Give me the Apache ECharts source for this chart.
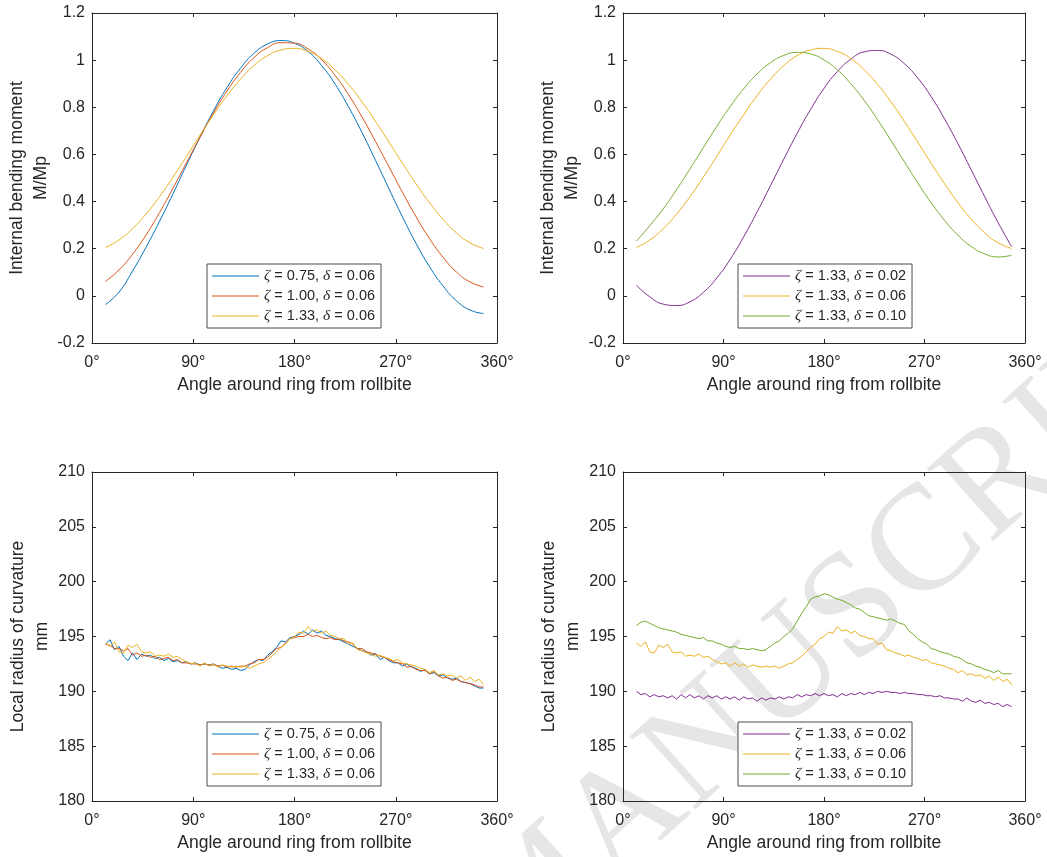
<!DOCTYPE html>
<html><head><meta charset="utf-8">
<script src="https://cdn.jsdelivr.net/npm/echarts@6/dist/echarts.min.js"></script>
<style>html,body{margin:0;padding:0;background:#fff}#c{width:1047px;height:857px}</style>
</head><body><div id="c"></div>
<script>
// ---------- data ----------
const angTop = [12,24,36,48,60,72,84,96,108,120,132,144,156,168,180,192,204,216,228,240,252,264,276,288,300,312,324,336,348];
const momZ075 = [-0.037,0.016,0.105,0.206,0.316,0.433,0.555,0.673,0.785,0.884,0.966,1.029,1.068,1.083,1.072,1.037,0.978,0.899,0.802,0.693,0.575,0.454,0.335,0.223,0.124,0.042,-0.021,-0.060,-0.075];
const momZ100 = [0.061,0.110,0.176,0.258,0.353,0.457,0.565,0.673,0.776,0.869,0.948,1.011,1.053,1.074,1.072,1.048,1.002,0.936,0.854,0.759,0.655,0.547,0.439,0.336,0.243,0.164,0.101,0.059,0.038];
const momZ133 = [0.205,0.237,0.285,0.347,0.421,0.504,0.592,0.682,0.768,0.849,0.919,0.977,1.019,1.043,1.050,1.037,1.007,0.959,0.897,0.823,0.740,0.652,0.562,0.476,0.395,0.325,0.267,0.225,0.201];
const momD002 = [0.045,-0.004,-0.035,-0.041,-0.025,0.015,0.076,0.155,0.250,0.355,0.467,0.580,0.690,0.791,0.880,0.952,1.004,1.035,1.041,1.025,0.985,0.924,0.845,0.750,0.645,0.533,0.420,0.310,0.209];
const momD010 = [0.232,0.298,0.369,0.451,0.539,0.629,0.719,0.803,0.878,0.941,0.989,1.020,1.033,1.026,1.001,0.959,0.900,0.829,0.747,0.659,0.569,0.479,0.395,0.320,0.257,0.209,0.178,0.165,0.172];

const angBot = [12,16,20,24,28,32,36,40,44,48,52,56,60,64,68,72,76,80,84,88,92,96,100,104,108,112,116,120,124,128,132,136,140,144,148,152,156,160,164,168,172,176,180,184,188,192,196,200,204,208,212,216,220,224,228,232,236,240,244,248,252,256,260,264,268,272,276,280,284,288,292,296,300,304,308,312,316,320,324,328,332,336,340,344,348];
const radZ075 = [194.3,194.7,193.8,194.1,193.2,192.8,193.5,192.9,193.4,193.2,
193.3,193.0,193.1,192.8,193.0,192.7,192.8,192.6,192.7,192.5,
192.6,192.4,192.5,192.4,192.5,192.3,192.1,192.2,192.0,192.1,
191.9,192.0,192.4,192.7,192.9,192.8,193.3,193.6,194.0,194.6,
194.5,194.9,195.0,195.2,195.5,195.2,195.6,195.3,195.5,195.1,
195.0,194.8,194.7,194.5,194.3,194.1,193.9,193.7,193.6,193.3,
193.4,192.9,193.1,192.8,192.6,192.6,192.3,192.5,192.2,192.1,
191.8,192.0,191.6,191.7,191.4,191.5,191.2,191.1,191.2,190.9,
190.8,190.7,190.5,190.3,190.3];
const radZ100 = [194.3,194.2,193.9,193.9,193.7,193.9,193.3,193.5,193.2,193.3,
193.1,193.2,192.9,193.0,193.1,192.8,192.9,192.6,192.6,192.5,
192.5,192.4,192.5,192.4,192.4,192.3,192.4,192.2,192.3,192.2,
192.3,192.3,192.5,192.6,192.9,192.9,193.1,193.5,193.9,194.0,
194.4,194.8,194.9,195.0,195.0,195.2,195.0,195.1,194.9,194.8,
194.9,194.7,194.8,194.6,194.5,194.3,193.9,193.9,193.6,193.5,
193.4,193.2,193.1,192.9,192.7,192.6,192.5,192.2,192.3,192.0,
191.9,191.9,191.6,191.8,191.4,191.2,191.3,191.0,191.1,190.9,
190.8,190.7,190.6,190.4,190.4];
const radZ133 = [194.4,194.1,194.5,193.6,193.5,194.2,194.0,194.3,193.6,193.5,
193.6,193.2,193.3,193.2,193.4,193.1,193.2,192.9,192.7,192.5,
192.6,192.3,192.6,192.3,192.5,192.2,192.4,192.3,192.2,192.3,
192.2,192.3,192.1,192.3,192.5,192.6,192.9,193.2,193.6,194.0,
194.3,194.8,195.0,195.4,195.3,195.9,195.5,195.6,195.3,195.5,
195.1,195.0,194.8,194.8,194.3,194.4,193.8,193.7,193.5,193.4,
193.2,193.3,193.1,193.0,192.8,192.9,192.6,192.5,192.4,192.3,
192.1,192.0,191.7,191.9,191.5,191.6,191.4,191.5,191.2,191.4,
191.0,191.3,190.9,191.1,190.6];
const radD002 = [190.0,189.7,189.8,189.5,189.7,189.5,189.6,189.4,189.6,189.3,
189.7,189.4,189.7,189.4,189.6,189.3,189.6,189.4,189.6,189.3,
189.5,189.3,189.5,189.2,189.5,189.3,189.4,189.1,189.4,189.2,
189.4,189.3,189.5,189.3,189.5,189.4,189.7,189.5,189.7,189.6,
189.8,189.6,189.8,189.6,189.7,189.5,189.8,189.6,189.8,189.7,
189.9,189.7,189.9,189.8,190.0,189.9,190.0,189.9,189.9,189.8,
189.9,189.8,189.8,189.7,189.7,189.6,189.6,189.5,189.6,189.4,
189.4,189.3,189.3,189.1,189.4,189.1,189.0,189.2,188.9,189.0,
188.8,188.9,188.6,188.8,188.6];
const radD010 = [196.0,196.3,196.4,196.2,196.0,195.8,195.7,195.6,195.5,195.4,
195.2,195.1,195.0,194.9,194.8,194.9,194.6,194.6,194.4,194.3,
194.1,194.0,194.1,193.9,193.9,193.8,193.9,193.8,193.7,193.8,
194.1,194.4,194.6,195.0,195.3,195.7,196.4,197.1,197.7,198.4,
198.6,198.7,198.9,198.8,198.6,198.4,198.3,198.1,197.9,197.6,
197.5,197.2,196.9,196.8,196.7,196.6,196.5,196.6,196.4,196.2,
196.1,195.5,195.2,194.8,194.5,194.3,193.9,193.8,193.6,193.5,
193.4,193.2,193.1,192.9,192.6,192.5,192.3,192.2,192.0,191.9,
191.7,191.9,191.6,191.6,191.6];

const xTicks = [0, 90, 180, 270, 360];
const yTopTicks = [-0.2, 1.2, 0.2];
const yBotTicks = [180, 210, 5];
const nameZ075 = 'ζ = 0.75, δ = 0.06';
const nameZ100 = 'ζ = 1.00, δ = 0.06';
const nameZ133 = 'ζ = 1.33, δ = 0.06';
const nameD002 = 'ζ = 1.33, δ = 0.02';
const nameD010 = 'ζ = 1.33, δ = 0.10';
const xTitle = 'Angle around ring from rollbite';
const yTitleTop = 'Internal bending moment\nM/Mp';
const yTitleBot = 'Local radius of curvature\nmm';

// ---------- styling ----------
const FONT = '"Liberation Sans", Arial, Helvetica, sans-serif';
const SERIF = '"Liberation Serif", "DejaVu Serif", serif';
const TXT = '#262626';
const C = {blue:'#0072BD', red:'#D95319', yellow:'#EDB120', purple:'#7E2F8E', green:'#77AC30'};

const grids = [
  {left:92, top:13, width:405, height:330},
  {left:623, top:13, width:402, height:330},
  {left:92, top:472, width:405, height:329},
  {left:623, top:472, width:402, height:329}
];

const xAxis = [], yAxis = [];
grids.forEach((g, gi) => {
  const base = {
    type:'value', gridIndex:gi, min:xTicks[0], max:xTicks[xTicks.length-1], interval:xTicks[1]-xTicks[0],
    axisLine:{show:true, onZero:false, lineStyle:{color:TXT, width:1}},
    axisTick:{show:true, inside:true, length:4, lineStyle:{color:TXT, width:1}},
    splitLine:{show:false}
  };
  xAxis.push(Object.assign({}, base, {
    position:'bottom',
    axisLabel:{color:TXT, fontSize:16, fontFamily:FONT, margin:12, formatter:v => v + '°'},
    name:xTitle, nameLocation:'middle', nameGap:33,
    nameTextStyle:{color:TXT, fontSize:17.5, fontFamily:FONT}
  }));
  xAxis.push(Object.assign({}, base, {position:'top', axisLabel:{show:false}}));
  const t = gi < 2 ? yTopTicks : yBotTicks;
  const ybase = {
    type:'value', gridIndex:gi, min:t[0], max:t[1], interval:t[2],
    axisLine:{show:true, onZero:false, lineStyle:{color:TXT, width:1}},
    axisTick:{show:true, inside:true, length:4, lineStyle:{color:TXT, width:1}},
    splitLine:{show:false}
  };
  yAxis.push(Object.assign({}, ybase, {
    position:'left',
    axisLabel:{color:TXT, fontSize:16, fontFamily:FONT, margin:7,
      formatter:v => String(Math.round(v*10)/10)},
    name: gi < 2 ? yTitleTop : yTitleBot, nameLocation:'middle', nameRotate:90, nameGap:35,
    nameTextStyle:{color:TXT, fontSize:17.5, fontFamily:FONT, lineHeight:24}
  }));
  yAxis.push(Object.assign({}, ybase, {position:'right', axisLabel:{show:false}}));
});

function zip(xs, ys){ return xs.map((x,i)=>[x, ys[i]]); }
function mk(gi, name, xs, ys, color, smooth){
  return {type:'line', name, xAxisIndex:2*gi, yAxisIndex:2*gi, data:zip(xs, ys),
    symbol:'none', showSymbol:false, smooth:smooth, lineStyle:{width:1, color}, itemStyle:{color},
    emphasis:{disabled:true}, animation:false};
}
const series = [
  mk(0, nameZ075, angTop, momZ075, C.blue, true),
  mk(0, nameZ100, angTop, momZ100, C.red, true),
  mk(0, nameZ133, angTop, momZ133, C.yellow, true),
  mk(1, nameD002, angTop, momD002, C.purple, true),
  mk(1, nameZ133, angTop, momZ133, C.yellow, true),
  mk(1, nameD010, angTop, momD010, C.green, true),
  mk(2, nameZ075, angBot, radZ075, C.blue, false),
  mk(2, nameZ100, angBot, radZ100, C.red, false),
  mk(2, nameZ133, angBot, radZ133, C.yellow, false),
  mk(3, nameD002, angBot, radD002, C.purple, false),
  mk(3, nameZ133, angBot, radZ133, C.yellow, false),
  mk(3, nameD010, angBot, radD010, C.green, false)
];

function leg(left, top, names){
  return {
    orient:'vertical', left, top, data:names,
    icon:'rect', itemWidth:47, itemHeight:1.2, itemGap:4,
    padding:[4,6,4,5],
    borderColor:'#4d4d4d', borderWidth:1, backgroundColor:'#fff',
    selectedMode:false, z:10,
    formatter:n => n.replace('ζ','{g|ζ}').replace('δ','{g|δ}'),
    textStyle:{color:TXT, fontSize:14.5, fontFamily:FONT, lineHeight:16,
      rich:{g:{fontFamily:SERIF, fontStyle:'italic', fontSize:15.5, color:TXT, lineHeight:16}}}
  };
}
const legend = [
  leg(207, 264, [nameZ075, nameZ100, nameZ133]),
  leg(738, 264, [nameD002, nameZ133, nameD010]),
  leg(207, 722, [nameZ075, nameZ100, nameZ133]),
  leg(738, 722, [nameD002, nameZ133, nameD010])
];

const chart = echarts.init(document.getElementById('c'), null, {renderer:'canvas'});
chart.setOption({
  animation:false,
  backgroundColor:'#fff',
  grid:grids.map(g => Object.assign({containLabel:false}, g)),
  xAxis, yAxis, series, legend,
  graphic:[{
    type:'text', z:-10, silent:true, x:486, y:945, rotation:0.733,
    style:{text:'MANUSCRIPT', fill:'#e6e6e6', font:'150px "Liberation Serif", serif',
      textAlign:'left', textVerticalAlign:'middle', align:'left', verticalAlign:'middle'}
  }]
});
</script>
</body></html>
